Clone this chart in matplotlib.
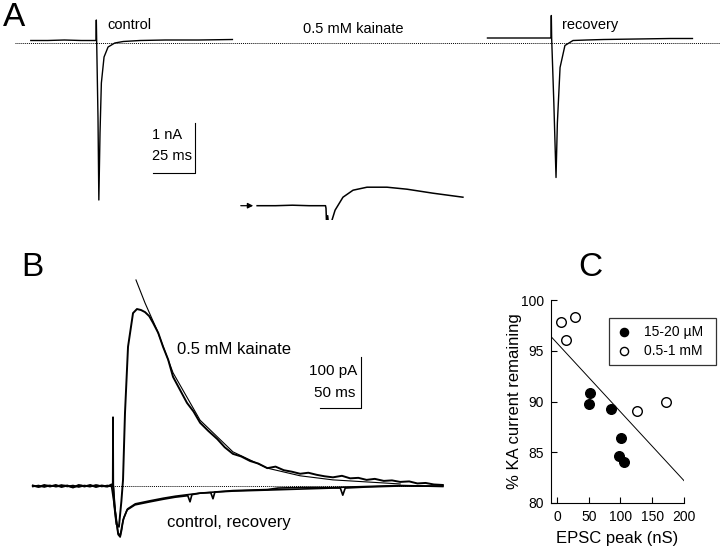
import matplotlib
matplotlib.use('Agg')
import matplotlib.pyplot as plt

plt.rcParams['font.family'] = ['Liberation Sans', 'DejaVu Sans']

W, H = 720, 550

# ---- Panel A traces: ms from stimulus, nA from baseline ----
a_ctrl_t = [-40, -30, -20, -10, -1.2, -1.0, -0.8, 0.0, 0.5, 1.2, 2.0, 3.6, 6.0, 10, 15, 25, 40, 60, 80]
a_ctrl_i = [0.05, 0.05, 0.06, 0.05, 0.05, 0.46, 0.05, -1.5, -3.14, -1.8, -0.8, -0.28, -0.08, 0.0, 0.03, 0.05, 0.06, 0.06, 0.07]

a_reco_t = [-39, -30, -20, -10, -1.2, -1.0, -0.8, 0.5, 1.8, 2.6, 4.2, 7.1, 11.9, 20, 30, 50, 70, 83]
a_reco_i = [0.10, 0.10, 0.10, 0.10, 0.10, 0.55, 0.10, -1.2, -2.69, -1.6, -0.49, -0.05, 0.05, 0.06, 0.07, 0.08, 0.09, 0.09]

a_kain_t = [-41, -30, -20, -10, -0.3, 0.0, 0.3, 1.0, 1.8, 3.0, 5.4, 10.1, 16.1, 24.4, 36.3, 48.2, 63.7, 81.5]
a_kain_i = [0.0, 0.0, 0.01, 0.0, 0.0, -0.05, -0.33, -0.2, -0.5, -0.35, -0.09, 0.17, 0.31, 0.37, 0.37, 0.33, 0.25, 0.17]

a_scale_na = 1
a_scale_ms = 25

# ---- Panel B traces: ms from stimulus, pA from baseline ----
b_kain_t = [-99, -92, -85, -78, -71, -64, -57, -50, -43, -36, -29, -22, -15, -8, -3, -1.4, -1.2, -1.0,
            0.5, 3, 6, 9, 11, 13.4, 17.1, 23.2, 28, 33, 37.8, 43, 47.6, 54, 59.8, 66, 72, 80, 89, 97,
            105, 115, 126, 135, 145, 155, 166, 176, 187, 197, 207, 217, 227, 237, 247, 257, 267, 278,
            288, 298, 308, 318, 329, 339, 349, 360, 370, 380, 390, 401]
b_kain_i = [1, -2, 2, -1, 2, -2, 1, -3, 2, -1, 2, -2, 1, -1, 3, 2, 86, 2,
            -40, -75, -80, -30, 12, 143, 273, 339, 347, 345, 341, 333, 320, 300, 273, 248, 214, 190, 163, 146,
            124, 108, 92, 76, 63, 58, 49, 44, 35, 38, 31, 28, 24, 26, 22, 19, 17, 20,
            15, 16, 12, 14, 10, 11, 8, 9, 5, 6, 3, 2]

b_fit_t = [26.8, 37.8, 52.4, 72, 105, 145, 187, 227, 267, 308, 349]
b_fit_i = [404, 359, 306, 222, 129, 67, 35, 20, 12, 8, 4]

b_ctrl_t = [-99, -92, -85, -78, -71, -64, -57, -50, -43, -36, -29, -22, -15, -8, -3, -1.4, -1.2, -1.0,
            2, 5, 7.5, 9.5, 11, 15.9, 25.6, 43.9, 60, 74.4, 90, 92.7, 95, 105, 118, 120.7, 123, 145,
            187, 227, 267, 276, 279, 282, 308, 349, 401]
b_ctrl_i = [-1, 1, -2, 1, -1, 2, -1, 1, -2, 1, -1, 2, -1, 1, -1, 2, 135, 2,
            -60, -95, -100, -85, -67, -47, -37, -31, -26, -22, -19, -31, -17, -14, -13, -25, -12, -10,
            -8, -6, -4, -4, -18, -4, -2, 0, 0]

b_reco_t = [-99, -90, -80, -70, -60, -50, -40, -30, -20, -10, -3,
            2, 5, 7.5, 9.5, 12, 16.5, 26, 44, 60, 75, 105, 145, 187, 200, 227, 267, 308, 349, 401]
b_reco_i = [0, -1, 1, -1, 1, -2, 1, -1, 1, -1, 0,
            -55, -92, -98, -80, -62, -45, -35, -29, -24, -20, -14, -9, -7, -4, -3, -3, -1, 1, -1]

b_scale_pa = 100
b_scale_ms = 50

# ---- Panel C scatter ----
c_low_x = [51, 52, 85, 101, 97, 106]
c_low_y = [89.8, 90.8, 89.25, 86.45, 84.6, 84.0]
c_high_x = [6, 28, 14, 126, 172]
c_high_y = [97.8, 98.35, 96.1, 89.05, 89.97]
c_fit_x = [-9.4, 200]
c_fit_y = [96.4, 82.2]
c_xticks = [0, 50, 100, 150, 200]
c_yticks = [80, 85, 90, 95, 100]


def px_rect(left, top, right, bottom):
    return [left / W, 1 - bottom / H, (right - left) / W, (bottom - top) / H]


def fig_text(x, y, s, **kw):
    kw.setdefault('va', 'center')
    fig.text(x / W, 1 - y / H, s, **kw)


fig = plt.figure(figsize=(7.2, 5.5), dpi=100)

# ---------------- Panel A ----------------
a_px_ms = 42 / 25      # pixels per ms
a_px_na = 50           # pixels per nA
a_base_y = 43          # dotted baseline row (px)
axA = fig.add_axes(px_rect(0, 0, W, 220))
axA.set_xlim(0, W / a_px_ms)
axA.set_ylim((a_base_y - 220) / a_px_na, a_base_y / a_px_na)
axA.axis('off')


def put_a(ts, cs, stim_x, base_y):
    t0 = stim_x / a_px_ms
    i0 = (a_base_y - base_y) / a_px_na
    return [t + t0 for t in ts], [c + i0 for c in cs]


axA.plot([15 / a_px_ms, W / a_px_ms], [0, 0], ls=(0, (1, 1)), color='k', lw=0.7)
x, y = put_a(a_ctrl_t, a_ctrl_i, 98, a_base_y)
axA.plot(x, y, color='k', lw=1.0)
x, y = put_a(a_reco_t, a_reco_i, 553, a_base_y)
axA.plot(x, y, color='k', lw=1.0)
x, y = put_a(a_kain_t, a_kain_i, 326, 205.7)
axA.plot(x, y, color='k', lw=1.1)

# scale bar, corner at (195, 173) px
sb_t = 195 / a_px_ms
sb_i = (a_base_y - 173) / a_px_na
axA.plot([sb_t - a_scale_ms, sb_t, sb_t], [sb_i, sb_i, sb_i + a_scale_na], color='k', lw=0.8)

axA.annotate('', xy=(256 / W, 1 - 205.7 / H), xytext=(238 / W, 1 - 205.7 / H),
             xycoords='figure fraction',
             arrowprops=dict(arrowstyle='-|>', color='k', lw=0.9, mutation_scale=8))

fig_text(14, 18, 'A', fontsize=24, ha='center')
fig_text(107, 25, 'control', fontsize=10.5, ha='left')
fig_text(353, 29, '0.5 mM kainate', fontsize=10.5, ha='center')
fig_text(562, 25, 'recovery', fontsize=10.5, ha='left')
fig_text(152, 135, '1 nA', fontsize=10.5, ha='left')
fig_text(152, 156, '25 ms', fontsize=10.5, ha='left')

# ---------------- Panel B ----------------
b_px_ms = 41 / 50
b_px_pa = 51 / 100
b_stim_x = 114
b_base_y = 486
axB = fig.add_axes(px_rect(0, 270, 460, H))
axB.set_xlim(-b_stim_x / b_px_ms, (460 - b_stim_x) / b_px_ms)
axB.set_ylim((b_base_y - H) / b_px_pa, (b_base_y - 270) / b_px_pa)
axB.axis('off')

axB.plot([-99, 401], [0, 0], ls=(0, (1, 1)), color='k', lw=0.7)
axB.plot(b_reco_t, b_reco_i, color='k', lw=1.2)
axB.plot(b_ctrl_t, b_ctrl_i, color='k', lw=1.2)
axB.plot(b_kain_t, b_kain_i, color='k', lw=1.4)
axB.plot(b_fit_t, b_fit_i, color='k', lw=0.8)

sb_t = (361 - b_stim_x) / b_px_ms
sb_i = (b_base_y - 408) / b_px_pa
axB.plot([sb_t - b_scale_ms, sb_t, sb_t], [sb_i, sb_i, sb_i + b_scale_pa], color='k', lw=0.8)

fig_text(32, 268, 'B', fontsize=24, ha='center')
fig_text(177, 349, '0.5 mM kainate', fontsize=12, ha='left')
fig_text(357, 371, '100 pA', fontsize=11, ha='right')
fig_text(355, 393, '50 ms', fontsize=11, ha='right')
fig_text(167, 522, 'control, recovery', fontsize=12, ha='left')

# ---------------- Panel C ----------------
axC = fig.add_axes(px_rect(551, 300, 684, 503))
axC.plot(c_fit_x, c_fit_y, color='k', lw=0.7)
axC.scatter(c_low_x, c_low_y, s=48, color='k', zorder=3, label='15-20 \u00b5M')
axC.scatter(c_high_x, c_high_y, s=48, facecolor='white', edgecolor='k', linewidth=1.0,
            zorder=3, label='0.5-1 mM')
axC.set_xlim(-9.4, 200)
axC.set_ylim(80, 100)
axC.set_xticks(c_xticks)
axC.set_yticks(c_yticks)
axC.spines['top'].set_visible(False)
axC.spines['right'].set_visible(False)
axC.tick_params(direction='in', length=4, width=0.8, labelsize=10, pad=5)
axC.set_xlabel('EPSC peak (nS)', fontsize=12)
axC.set_ylabel('% KA current remaining', fontsize=12)
axC.xaxis.set_label_coords(0.5, -0.14)
axC.yaxis.set_label_coords(-0.22, 0.5)
leg = axC.legend(loc='upper left', mode='expand',
                 bbox_to_anchor=(609 / W, 1 - 364 / H, (716 - 609) / W, (364 - 318) / H),
                 bbox_transform=fig.transFigure, borderaxespad=0, fancybox=False,
                 edgecolor='k', fontsize=10, handletextpad=0.8, borderpad=0.5,
                 labelspacing=0.35, markerscale=0.85, handlelength=1.2)
leg.get_frame().set_linewidth(0.9)

fig_text(590, 268, 'C', fontsize=24, ha='center')

fig.savefig('out.png', dpi=100)
